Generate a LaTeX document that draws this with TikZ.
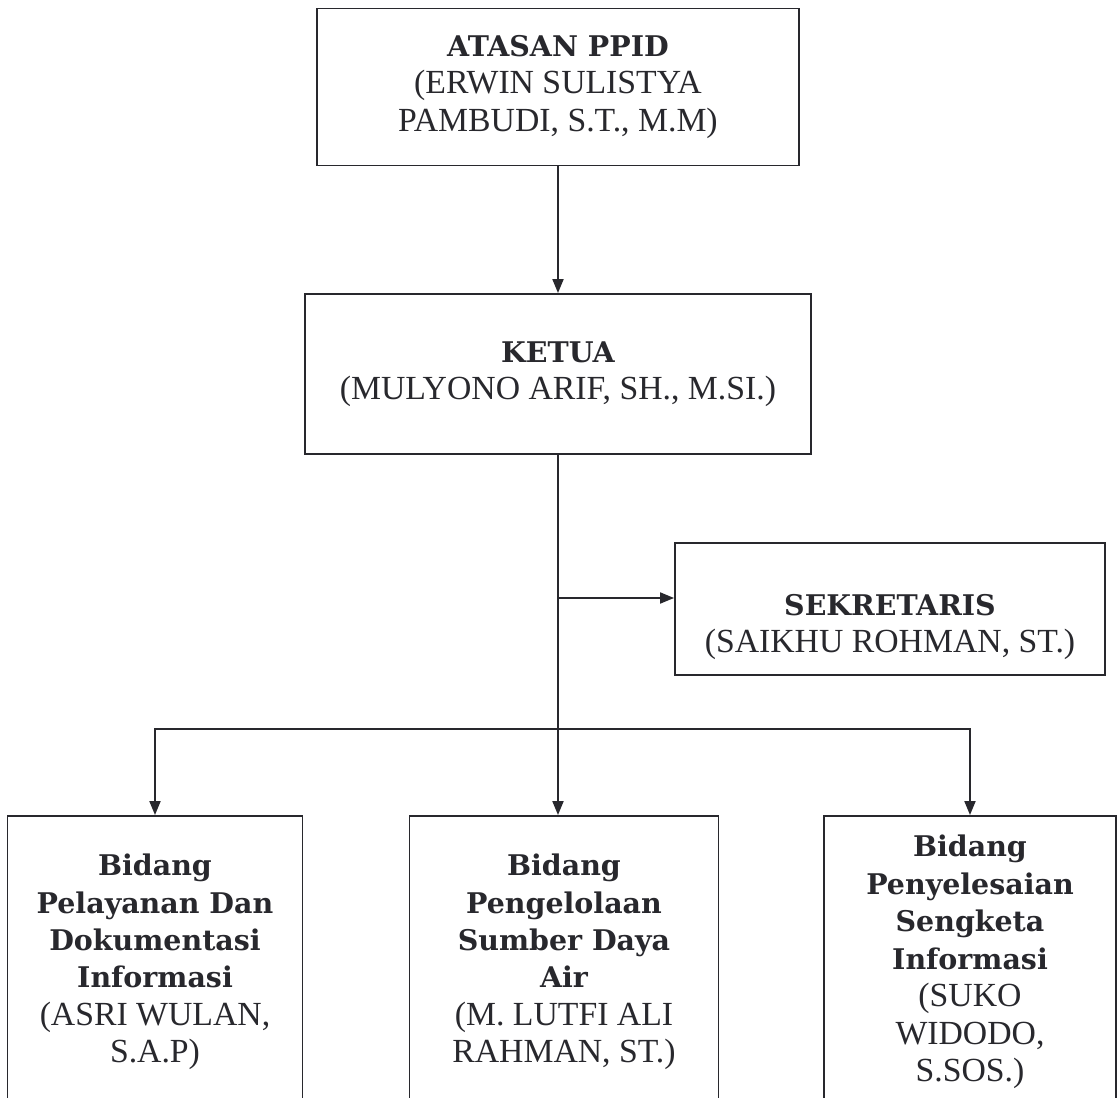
\documentclass[tikz,border=0pt]{standalone}
\usepackage{fontspec}
\setmainfont{Liberation Serif}
\newfontfamily\headfont{DejaVu Serif}
\usepackage{xcolor}
\usepackage{tikz}
\usetikzlibrary{arrows.meta}
\definecolor{ink}{RGB}{40,40,45}
\newcommand{\headtxt}[1]{{\headfont\bfseries\fontsize{16.2}{21.3}\selectfont #1}}
\tikzstyle{box}=[fill=white, draw=ink, line width=1.1pt, shape=rectangle, align=center, inner sep=0pt, text=ink]
\tikzstyle{arrow}=[draw=ink, line width=1.1pt, -{Triangle[length=0.28cm, width=0.22cm]}]
\pgfdeclarelayer{nodelayer}
\pgfdeclarelayer{edgelayer}
\pgfsetlayers{edgelayer,nodelayer}

\begin{document}
\begin{tikzpicture}[x=0.02cm, y=-0.02cm, every node/.style={font=\fontsize{19.2}{21.3}\selectfont}]
	\useasboundingbox (0, 0) rectangle (1117, 1098);
	\begin{pgfonlayer}{nodelayer}
		\node [style=box, minimum width=9.66cm, minimum height=3.14cm] (0) at (558, 87) {\headtxt{ATASAN PPID}\\(ERWIN SULISTYA\\PAMBUDI, S.T., M.M)};
		\node [style=box, minimum width=10.12cm, minimum height=3.2cm] (1) at (558, 374) {\headtxt{KETUA}\\(MULYONO ARIF, SH., M.SI.)};
		\node [style=box, minimum width=8.6cm, minimum height=2.64cm, label={[align=center, text=ink, yshift=-0.36cm]center:{\headtxt{SEKRETARIS}\\(SAIKHU ROHMAN, ST.)}}] (2) at (890, 609) {};
		\node [style=box, minimum width=5.9cm, minimum height=5.84cm] (3) at (155, 962) {\headtxt{Bidang}\\\headtxt{Pelayanan Dan}\\\headtxt{Dokumentasi}\\\headtxt{Informasi}\\(ASRI WULAN,\\S.A.P)};
		\node [style=box, minimum width=6.18cm, minimum height=5.84cm] (4) at (564, 962) {\headtxt{Bidang}\\\headtxt{Pengelolaan}\\\headtxt{Sumber Daya}\\\headtxt{Air}\\(M. LUTFI ALI\\RAHMAN, ST.)};
		\node [style=box, minimum width=5.84cm, minimum height=5.84cm] (5) at (970, 962) {\headtxt{Bidang}\\\headtxt{Penyelesaian}\\\headtxt{Sengketa}\\\headtxt{Informasi}\\(SUKO\\WIDODO,\\S.SOS.)};
		\coordinate (6) at (558, 598);
		\coordinate (7) at (558, 729);
	\end{pgfonlayer}
	\begin{pgfonlayer}{edgelayer}
		\draw [style=arrow] (0) to (1);
		\draw [draw=ink, line width=1.1pt] (1.south) to (7);
		\draw [style=arrow] (6) to (2.west |- 6);
		\draw [style=arrow] (7) -| (3.north);
		\draw [style=arrow] (7) to (4.north -| 7);
		\draw [style=arrow] (7) -| (5.north);
	\end{pgfonlayer}
\end{tikzpicture}
\end{document}
